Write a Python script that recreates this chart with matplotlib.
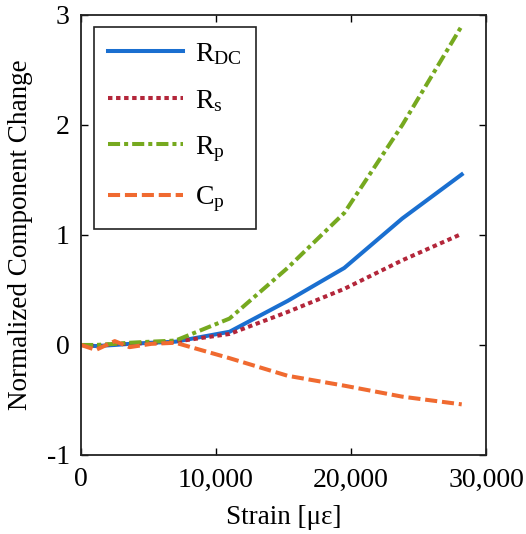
import numpy as np
import matplotlib
matplotlib.use("Agg")
import matplotlib.pyplot as plt
from matplotlib.ticker import FuncFormatter

plt.rcParams['font.family'] = ['Liberation Serif', 'DejaVu Serif']
plt.rcParams['mathtext.fontset'] = 'custom'
plt.rcParams['mathtext.rm'] = 'Liberation Serif'
plt.rcParams['mathtext.it'] = 'Liberation Serif:italic'
plt.rcParams['axes.unicode_minus'] = False

# data
strain = [0, 1100, 2500, 3600, 5200, 7000, 11000, 15300, 19500, 23800, 28200]
r_dc = [0, -0.01, 0.0, 0.01, 0.02, 0.03, 0.12, 0.40, 0.70, 1.15, 1.55]
r_s = [0, -0.01, 0.01, 0.01, 0.02, 0.03, 0.10, 0.30, 0.51, 0.77, 1.01]
r_p = [0, 0.0, 0.01, 0.02, 0.03, 0.04, 0.24, 0.70, 1.20, 2.00, 2.90]
c_p = [0, -0.045, 0.035, -0.02, 0.01, 0.02, -0.12, -0.28, -0.37, -0.47, -0.54]

x_ticks = [0, 10000, 20000, 30000]
y_ticks = [-1, 0, 1, 2, 3]

fig = plt.figure(figsize=(5.26, 5.34), dpi=100)
ax = fig.add_axes([0.154, 0.148, 0.770, 0.824])

lw = 2.9
ax.plot(strain, r_dc, color='#1a6fd0', lw=lw, label=r'R$_{\mathrm{DC}}$')
ax.plot(strain, r_s, color='#b3263a', lw=lw, dashes=(1.1, 0.9), label=r'R$_{\mathrm{s}}$')
ax.plot(strain, r_p, color='#76a91f', lw=lw, dashes=(3, 1, 1, 1), label=r'R$_{\mathrm{p}}$')
ax.plot(strain, c_p, color='#f06a30', lw=lw, dashes=(3, 1.2), label=r'C$_{\mathrm{p}}$')

ax.set_xlim(0, 30000)
ax.set_ylim(-1, 3)
ax.set_xticks(x_ticks)
ax.set_yticks(y_ticks)
ax.xaxis.set_major_formatter(FuncFormatter(lambda v, p: f'{int(v):,}'))
ax.tick_params(direction='in', length=5, width=1, labelsize=20,
               top=True, right=True)
ax.tick_params(axis='x', pad=9)
ax.tick_params(axis='y', pad=8)
for s in ax.spines.values():
    s.set_linewidth(1.3)
    s.set_color('#222222')

ax.set_xlabel('Strain [με]', fontsize=19.5, labelpad=9)
ax.set_ylabel('Normalized Component Change', fontsize=19.5, labelpad=10)

leg = ax.legend(loc='upper left', fontsize=20, handlelength=2.7,
                labelspacing=0.74, borderpad=0.52, handletextpad=0.4,
                borderaxespad=0, fancybox=False, edgecolor='#222222',
                framealpha=1, bbox_to_anchor=(0.032, 0.973))
leg.get_frame().set_linewidth(1.2)

fig.savefig('out.png', dpi=100)
